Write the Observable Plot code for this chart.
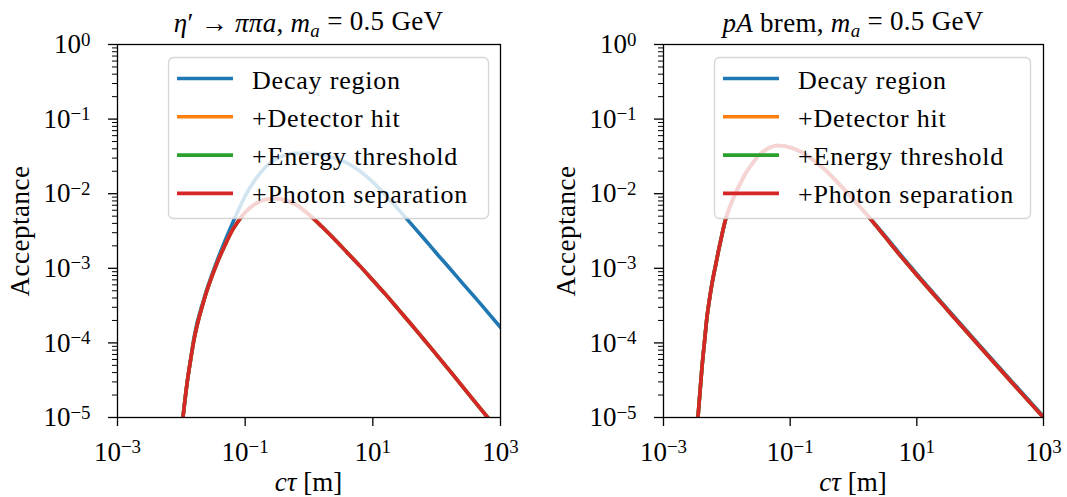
<!DOCTYPE html>
<html><head><meta charset="utf-8">
<script src="https://cdn.jsdelivr.net/npm/d3@7"></script>
<script src="https://cdn.jsdelivr.net/npm/@observablehq/plot@0.6"></script>
<style>
body{margin:0;background:#fff;}
#root{position:relative;width:1067px;height:497px;overflow:hidden;font-family:"Liberation Serif",serif;}
.panel{position:absolute;top:0;}
#overlay{position:absolute;left:0;top:0;pointer-events:none;}
</style></head>
<body><div id="root"></div>
<script>
// ---------- data ----------
const seriesNames = ["Decay region", "+Detector hit", "+Energy threshold", "+Photon separation"];
const seriesColors = ["#1f77b4", "#ff7f0e", "#2ca02c", "#d62728"];
const xTicks = [1e-3, 1e-1, 1e1, 1e3];
const yTicks = [1e-5, 1e-4, 1e-3, 1e-2, 1e-1, 1];
const panelTitles = ["eta", "pA"];

// Left panel: eta' -> pi pi a
const ctauLeft = [0.00891, 0.0106, 0.01225, 0.01413, 0.01585, 0.02239, 0.03548, 0.05012, 0.0631, 0.07943, 0.1, 0.1413, 0.1995, 0.2818, 0.3981, 0.631, 1, 1.585, 2.512, 3.981, 6.31, 10, 15.85, 25.12, 39.81, 63.1, 100, 158.5, 251.2, 398.1, 631, 1000];
const decayLeft = [2.51e-6, 1.0e-5, 2.82e-5, 6.31e-5, 1.20e-4, 3.80e-4, 1.20e-3, 2.51e-3, 3.98e-3, 6.17e-3, 9.33e-3, 1.51e-2, 2.19e-2, 2.82e-2, 3.24e-2, 3.47e-2, 3.47e-2, 3.31e-2, 3.02e-2, 2.57e-2, 2.00e-2, 1.43e-2, 9.55e-3, 6.17e-3, 3.94e-3, 2.51e-3, 1.58e-3, 1.01e-3, 6.38e-4, 4.07e-4, 2.57e-4, 1.62e-4];
const detHitLeft = [2.51e-6, 1.0e-5, 2.82e-5, 6.31e-5, 1.12e-4, 3.63e-4, 1.12e-3, 2.19e-3, 3.24e-3, 4.37e-3, 5.62e-3, 7.24e-3, 8.32e-3, 8.61e-3, 8.32e-3, 7.08e-3, 5.25e-3, 3.63e-3, 2.45e-3, 1.62e-3, 1.07e-3, 6.92e-4, 4.47e-4, 2.82e-4, 1.78e-4, 1.11e-4, 6.92e-5, 4.27e-5, 2.63e-5, 1.62e-5, 1.0e-5, 6.17e-6];
const energyLeft = [2.51e-6, 1.0e-5, 2.82e-5, 6.31e-5, 1.12e-4, 3.63e-4, 1.12e-3, 2.19e-3, 3.24e-3, 4.37e-3, 5.62e-3, 7.24e-3, 8.32e-3, 8.61e-3, 8.32e-3, 7.08e-3, 5.25e-3, 3.63e-3, 2.45e-3, 1.62e-3, 1.07e-3, 6.92e-4, 4.47e-4, 2.82e-4, 1.78e-4, 1.11e-4, 6.92e-5, 4.27e-5, 2.63e-5, 1.62e-5, 1.0e-5, 6.17e-6];
const photonLeft = [2.51e-6, 1.0e-5, 2.82e-5, 6.31e-5, 1.12e-4, 3.63e-4, 1.12e-3, 2.19e-3, 3.24e-3, 4.37e-3, 5.62e-3, 7.24e-3, 8.32e-3, 8.61e-3, 8.32e-3, 7.08e-3, 5.25e-3, 3.63e-3, 2.45e-3, 1.62e-3, 1.07e-3, 6.92e-4, 4.47e-4, 2.82e-4, 1.78e-4, 1.11e-4, 6.92e-5, 4.27e-5, 2.63e-5, 1.62e-5, 1.0e-5, 6.17e-6];

// Right panel: pA brem
const ctauRight = [0.00282, 0.0035, 0.0038, 0.00405, 0.00447, 0.00485, 0.00525, 0.00582, 0.00661, 0.00741, 0.00832, 0.00946, 0.01122, 0.01361, 0.0166, 0.01959, 0.02512, 0.03162, 0.03981, 0.05012, 0.0631, 0.07943, 0.1, 0.1334, 0.1778, 0.2371, 0.3162, 0.5623, 1, 1.778, 3.162, 5.623, 10, 31.62, 100, 316.2, 1000];
const decayRight = [1.26e-6, 1.0e-5, 2.40e-5, 4.68e-5, 1.10e-4, 2.19e-4, 3.55e-4, 6.17e-4, 1.07e-3, 1.74e-3, 2.75e-3, 4.37e-3, 6.76e-3, 1.0e-2, 1.41e-2, 1.85e-2, 2.51e-2, 3.24e-2, 3.80e-2, 4.22e-2, 4.42e-2, 4.37e-2, 4.17e-2, 3.80e-2, 3.31e-2, 2.79e-2, 2.29e-2, 1.41e-2, 8.32e-3, 4.79e-3, 2.72e-3, 1.50e-3, 8.41e-4, 2.75e-4, 9.12e-5, 3.05e-5, 1.035e-5];
const detHitRight = [1.26e-6, 1.0e-5, 2.40e-5, 4.68e-5, 1.10e-4, 2.19e-4, 3.55e-4, 6.17e-4, 1.07e-3, 1.74e-3, 2.75e-3, 4.37e-3, 6.76e-3, 1.0e-2, 1.41e-2, 1.85e-2, 2.51e-2, 3.24e-2, 3.80e-2, 4.22e-2, 4.42e-2, 4.37e-2, 4.17e-2, 3.80e-2, 3.31e-2, 2.79e-2, 2.29e-2, 1.41e-2, 8.32e-3, 4.79e-3, 2.63e-3, 1.445e-3, 8.13e-4, 2.66e-4, 8.81e-5, 2.95e-5, 1.0e-5];
const energyRight = [1.26e-6, 1.0e-5, 2.40e-5, 4.68e-5, 1.10e-4, 2.19e-4, 3.55e-4, 6.17e-4, 1.07e-3, 1.74e-3, 2.75e-3, 4.37e-3, 6.76e-3, 1.0e-2, 1.41e-2, 1.85e-2, 2.51e-2, 3.24e-2, 3.80e-2, 4.22e-2, 4.42e-2, 4.37e-2, 4.17e-2, 3.80e-2, 3.31e-2, 2.79e-2, 2.29e-2, 1.41e-2, 8.32e-3, 4.79e-3, 2.63e-3, 1.445e-3, 8.13e-4, 2.66e-4, 8.81e-5, 2.95e-5, 1.0e-5];
const photonRight = [1.26e-6, 1.0e-5, 2.40e-5, 4.68e-5, 1.10e-4, 2.19e-4, 3.55e-4, 6.17e-4, 1.07e-3, 1.74e-3, 2.75e-3, 4.37e-3, 6.76e-3, 1.0e-2, 1.41e-2, 1.85e-2, 2.51e-2, 3.24e-2, 3.80e-2, 4.22e-2, 4.42e-2, 4.37e-2, 4.17e-2, 3.80e-2, 3.31e-2, 2.79e-2, 2.29e-2, 1.41e-2, 8.32e-3, 4.79e-3, 2.63e-3, 1.445e-3, 8.13e-4, 2.66e-4, 8.81e-5, 2.95e-5, 1.0e-5];

// ---------- build ----------
const FONT = "Liberation Serif";
const TICK_FS = 27;
const minorY = [];
for (let e = -5; e < 0; e++) for (let m = 2; m <= 9; m++) minorY.push(m * Math.pow(10, e));

function rows(ctau, seriesArrays) {
  const out = [];
  seriesArrays.forEach((arr, i) => arr.forEach((v, j) => out.push({series: seriesNames[i], ctau: ctau[j], acc: v})));
  return out;
}

function makePanel(data, left, width, mLeft, mRight) {
  const chart = Plot.plot({
    width, height: 497,
    marginLeft: mLeft, marginRight: mRight, marginTop: 44, marginBottom: 80,
    style: {fontFamily: FONT, fontSize: TICK_FS + "px", background: "transparent", color: "#000"},
    x: {type: "log", domain: [1e-3, 1e3]},
    y: {type: "log", domain: [1e-5, 1]},
    marks: [
      ...seriesNames.map((s, i) => Plot.line(data.filter(d => d.series === s), {
        x: "ctau", y: "acc", stroke: seriesColors[i], strokeWidth: 3.6,
        curve: "monotone-x", clip: true
      })),
      Plot.frame({stroke: "#000", strokeWidth: 1.3}),
      Plot.axisX({ticks: xTicks, tickSize: 9, tickPadding: 15, strokeWidth: 1.3, fontSize: TICK_FS,
        tickFormat: d => String(Math.round(Math.log10(d))), label: null}),
      Plot.axisY({ticks: yTicks, tickSize: 9, tickPadding: 18, strokeWidth: 1.3, fontSize: TICK_FS,
        tickFormat: d => String(Math.round(Math.log10(d))), label: null}),
      Plot.axisY({ticks: minorY, tickSize: 5, strokeWidth: 1.0, tickFormat: () => "", label: null})
    ]
  });
  chart.classList.add("panel");
  chart.style.left = left + "px";
  // superscript tick labels
  chart.querySelectorAll('g[aria-label="x-axis tick label"] text, g[aria-label="y-axis tick label"] text').forEach(t => {
    const e = t.textContent.trim();
    if (e === "") return;
    t.textContent = "";
    const base = document.createElementNS("http://www.w3.org/2000/svg", "tspan");
    base.textContent = "10";
    const sup = document.createElementNS("http://www.w3.org/2000/svg", "tspan");
    sup.textContent = e.replace("-", "\u2212");
    sup.setAttribute("dy", "-0.4em");
    sup.setAttribute("font-size", "0.7em");
    t.appendChild(base); t.appendChild(sup);
  });
  return chart;
}

const root = document.getElementById("root");
root.appendChild(makePanel(rows(ctauLeft, [decayLeft, detHitLeft, energyLeft, photonLeft]), 0, 530, 117, 30));
root.appendChild(makePanel(rows(ctauRight, [decayRight, detHitRight, energyRight, photonRight]), 530, 537, 133, 24));

// ---------- overlay: titles, axis labels, legends ----------
const NS = "http://www.w3.org/2000/svg";
const ov = document.createElementNS(NS, "svg");
ov.setAttribute("id", "overlay"); ov.setAttribute("width", 1067); ov.setAttribute("height", 497);
ov.setAttribute("font-family", FONT);
root.appendChild(ov);

function el(tag, attrs, parent) {
  const e = document.createElementNS(NS, tag);
  for (const k in attrs) e.setAttribute(k, attrs[k]);
  (parent || ov).appendChild(e);
  return e;
}
function addText(parent, parts, attrs) {
  const t = el("text", attrs, parent);
  parts.forEach(p => {
    const s = el("tspan", p.a || {}, t);
    s.textContent = p.t;
  });
  return t;
}

const titleParts = {
  eta: [{t: "η", a: {"font-style": "italic"}}, {t: "′ → "}, {t: "ππa", a: {"font-style": "italic"}}, {t: ", "},
        {t: "m", a: {"font-style": "italic"}}, {t: "a", a: {"font-style": "italic", "font-size": "0.7em", dy: "0.25em"}},
        {t: " = 0.5 GeV", a: {dy: "-0.25em"}}],
  pA: [{t: "pA", a: {"font-style": "italic"}}, {t: " brem, "},
       {t: "m", a: {"font-style": "italic"}}, {t: "a", a: {"font-style": "italic", "font-size": "0.7em", dy: "0.25em"}},
       {t: " = 0.5 GeV", a: {dy: "-0.25em"}}]
};

const panels = [
  {cx: 308.5, frameL: 117, legX: 168, legW: 320, title: panelTitles[0]},
  {cx: 853, frameL: 663, legX: 714, legW: 316, title: panelTitles[1]}
];
panels.forEach(p => {
  addText(ov, titleParts[p.title], {x: p.cx, y: 32, "text-anchor": "middle", "font-size": 27, "letter-spacing": "0.3px"});
  addText(ov, [{t: "cτ", a: {"font-style": "italic"}}, {t: " [m]"}], {x: p.cx, y: 491, "text-anchor": "middle", "font-size": 27});
  const ylx = p.frameL - 88;
  addText(ov, [{t: "Acceptance"}], {x: 0, y: 0, "text-anchor": "middle", "font-size": 27, "letter-spacing": "0.5px",
    transform: `translate(${ylx},231) rotate(-90)`});
  // legend
  el("rect", {x: p.legX + 0.5, y: 57.5, width: p.legW, height: 161, rx: 5,
    fill: "#fff", "fill-opacity": 0.8, stroke: "#cccccc", "stroke-opacity": 0.8, "stroke-width": 1.3});
  seriesNames.forEach((name, i) => {
    const yy = 78.5 + i * 38.3;
    el("line", {x1: p.legX + 9, x2: p.legX + 65, y1: yy, y2: yy, stroke: seriesColors[i], "stroke-width": 3.6});
    addText(ov, [{t: name}], {x: p.legX + 84, y: yy + 10, "font-size": 26, "letter-spacing": "0.8px"});
  });
});
</script></body></html>
